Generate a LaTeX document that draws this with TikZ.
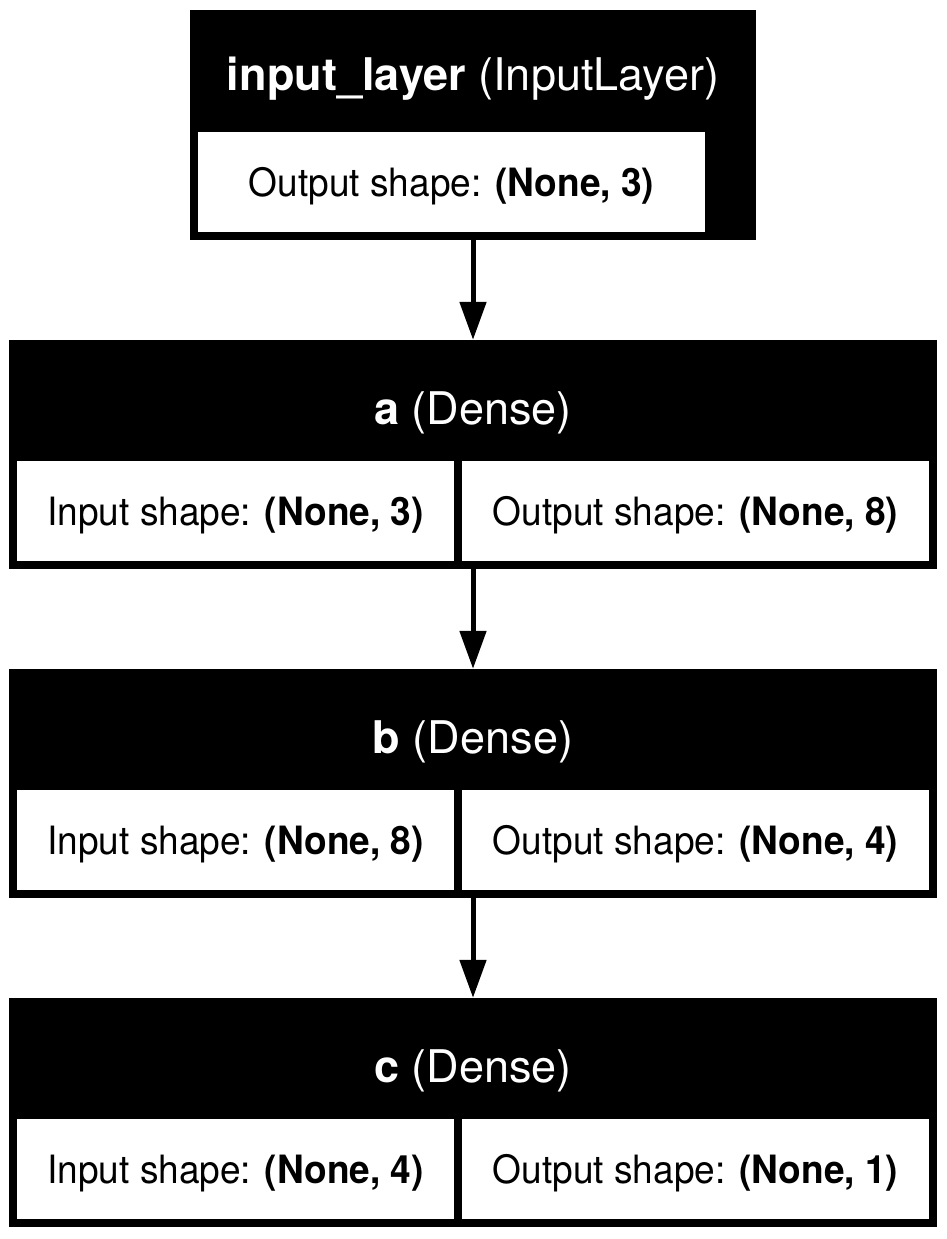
\documentclass[tikz,border=0pt]{standalone}
\usepackage{fontspec}
\setmainfont{TeX Gyre Heros}
\newfontfamily\cellfont[FakeStretch=0.95]{TeX Gyre Heros}
\usetikzlibrary{arrows.meta}

\tikzset{
  layerbox/.style={rectangle, fill=black, inner sep=0pt},
  cell/.style={rectangle, fill=white, inner sep=0pt, minimum height=100pt,
               font=\cellfont\fontsize{39}{46}\selectfont, text height=28pt, text depth=0pt},
  title/.style={text=white, inner sep=0pt, font=\fontsize{45}{52}\selectfont,
                text height=32.3pt, text depth=0pt},
  flow/.style={line width=5pt, -{Triangle[length=38pt,width=26pt]}}
}

\begin{document}
\begin{tikzpicture}[x=1pt, y=-1pt]
  \useasboundingbox (0,0) rectangle (947,1239);

  % input layer
  \node[layerbox, minimum width=566pt, minimum height=230pt] (inp) at (473,125) {};
  \node[title] (inpT) at (473,74) {\textbf{input\_layer} (InputLayer)};
  \node[cell, minimum width=507pt] (inpO) at (451.5,182) {Output shape: \textbf{(None, 3)}};

  % dense layer a
  \node[layerbox, minimum width=928pt, minimum height=229pt] (la) at (473,454.5) {};
  \node[title] (laT) at (473,408) {\textbf{a} (Dense)};
  \node[cell, minimum width=437pt] (laI) at (235.5,511) {Input shape: \textbf{(None, 3)}};
  \node[cell, minimum width=467pt] (laO) at (695.5,511) {Output shape: \textbf{(None, 8)}};

  % dense layer b
  \node[layerbox, minimum width=928pt, minimum height=229pt] (lb) at (473,783.5) {};
  \node[title] (lbT) at (473,737) {\textbf{b} (Dense)};
  \node[cell, minimum width=437pt] (lbI) at (235.5,840) {Input shape: \textbf{(None, 8)}};
  \node[cell, minimum width=467pt] (lbO) at (695.5,840) {Output shape: \textbf{(None, 4)}};

  % dense layer c
  \node[layerbox, minimum width=928pt, minimum height=229pt] (lc) at (473,1112.5) {};
  \node[title] (lcT) at (473,1066) {\textbf{c} (Dense)};
  \node[cell, minimum width=437pt] (lcI) at (235.5,1169) {Input shape: \textbf{(None, 4)}};
  \node[cell, minimum width=467pt] (lcO) at (695.5,1169) {Output shape: \textbf{(None, 1)}};

  % connections
  \draw[flow] (inp.south) -- (la.north);
  \draw[flow] (la.south) -- (lb.north);
  \draw[flow] (lb.south) -- (lc.north);
\end{tikzpicture}
\end{document}
